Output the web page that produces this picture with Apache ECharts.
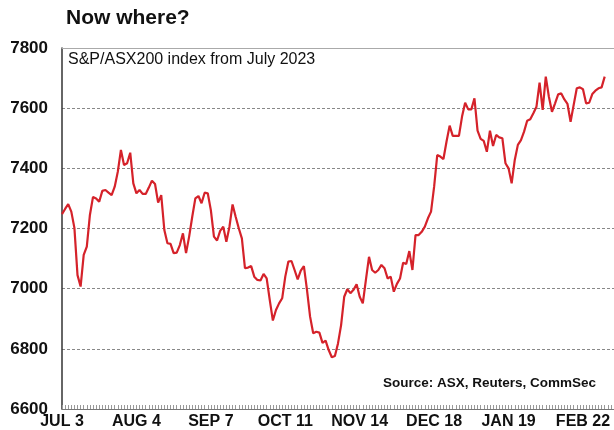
<!DOCTYPE html>
<html>
<head>
<meta charset="utf-8">
<script src="https://cdn.jsdelivr.net/npm/echarts@6/dist/echarts.min.js"></script>
<style>
html,body{margin:0;padding:0;background:#fff;}
#c{width:614px;height:430px;}
</style>
</head>
<body>
<div id="c"></div>
<script>
// Tick labels shown every 24 trading days
var tickLabels = ['JUL 3','AUG 4','SEP 7','OCT 11','NOV 14','DEC 18','JAN 19','FEB 22'];
var labelStep = 24;
var slotCount = 179;
// S&P/ASX200 daily close
var asx200 = [
7248,7265,7281,7256,7202,7045,7007,7112,7140,7245,
7305,7300,7289,7325,7328,7319,7311,7339,7389,7461,
7411,7417,7452,7350,7317,7328,7315,7315,7336,7359,
7348,7286,7311,7195,7151,7149,7118,7120,7145,7184,
7118,7173,7239,7300,7308,7284,7319,7317,7261,7173,
7160,7192,7206,7156,7206,7280,7239,7201,7167,7068,
7070,7075,7040,7029,7027,7049,7034,6962,6894,6929,
6951,6968,7040,7090,7092,7062,7031,7060,7075,6996,
6907,6852,6857,6854,6820,6827,6796,6772,6776,6818,
6879,6973,6998,6985,6996,7015,6973,6951,7029,7106,
7062,7053,7062,7079,7068,7034,7040,6990,7016,7034,
7086,7082,7125,7062,7178,7178,7189,7206,7234,7256,
7339,7444,7439,7431,7489,7542,7508,7508,7508,7572,
7618,7596,7596,7633,7525,7498,7491,7455,7525,7474,
7511,7503,7500,7417,7400,7350,7428,7478,7494,7522,
7558,7563,7583,7605,7685,7594,7705,7638,7588,7616,
7646,7649,7629,7614,7555,7611,7666,7669,7663,7616,
7618,7647,7658,7666,7669,7705
];
var yMin = 6600, yMax = 7800, yStep = 200;

var categories = [];
for (var i = 0; i < slotCount; i++) categories.push(String(i));

var FONT = 'Liberation Sans, Arial, sans-serif';
var chart = echarts.init(document.getElementById('c'), null, {renderer:'canvas'});
chart.setOption({
  animation:false,
  backgroundColor:'#fff',
  grid:{left:62,right:0,top:48,bottom:21},
  xAxis:[{
    type:'category', data:categories, boundaryGap:false,
    axisLine:{show:true,lineStyle:{color:'#777',width:1}},
    axisTick:{show:true,inside:true,length:4,interval:0,lineStyle:{color:'#999',width:1}},
    axisLabel:{
      interval:function(idx){return idx % labelStep === 0;},
      formatter:function(v,idx){return tickLabels[idx/labelStep] || '';},
      fontFamily:FONT,fontWeight:'bold',fontSize:16,color:'#111',margin:5
    },
    splitLine:{show:false}
  },{
    type:'category', data:categories, boundaryGap:false, position:'top',
    axisLine:{show:true,lineStyle:{color:'#aaa',width:1}},
    axisTick:{show:false}, axisLabel:{show:false}, splitLine:{show:false}
  }],
  yAxis:{
    type:'value', min:yMin, max:yMax, interval:yStep,
    axisLine:{show:true,lineStyle:{color:'#333',width:1.5}},
    axisTick:{show:false},
    axisLabel:{formatter:function(v){return String(v);},fontFamily:FONT,fontWeight:'bold',fontSize:17,color:'#111',margin:14},
    splitLine:{show:true,lineStyle:{color:'#888',width:1,type:[3,2]}}
  },
  series:[{
    type:'line', data:asx200, symbol:'none', smooth:false, xAxisIndex:0,
    lineStyle:{color:'#d5222a',width:2.2}
  }],
  graphic:[
    {type:'text',left:66,top:8,style:{text:'Now where?',font:'bold 21px '+FONT,fill:'#111'}},
    {type:'text',left:68,top:52,style:{text:'S&P/ASX200 index from July 2023',font:'16px '+FONT,fill:'#111'}},
    {type:'text',right:18,top:376,style:{text:'Source: ASX, Reuters, CommSec',font:'bold 13.5px '+FONT,fill:'#111'}}
  ]
});
</script>
</body>
</html>
